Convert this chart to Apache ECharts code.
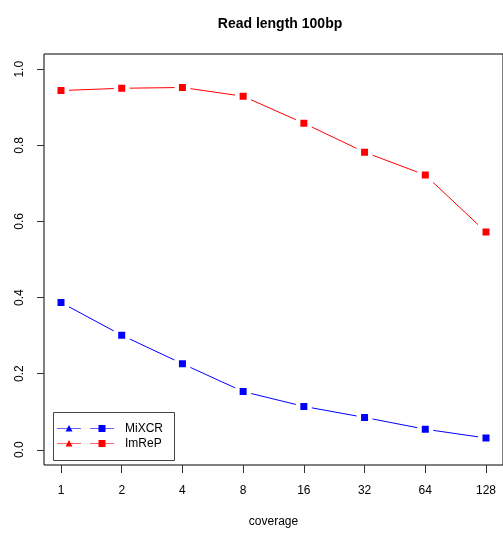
<!DOCTYPE html>
<html>
<head>
<meta charset="utf-8">
<script src="https://cdn.jsdelivr.net/npm/echarts@6/dist/echarts.min.js"></script>
<style>
  html, body { margin: 0; padding: 0; background: #fff; }
  #chart { width: 503px; height: 533px; }
</style>
</head>
<body>
<div id="chart"></div>
<script>
// coverage levels (x axis), one point per level
var coverage = ['1', '2', '4', '8', '16', '32', '64', '128'];
var mixcr = [0.387, 0.301, 0.226, 0.153, 0.114, 0.085, 0.054, 0.031];
var imrep = [0.944, 0.950, 0.952, 0.929, 0.858, 0.782, 0.722, 0.572];
var yTicks = [0, 0.2, 0.4, 0.6, 0.8, 1.0];
var seriesNames = ['MiXCR', 'ImReP'];
var seriesColors = ['#0000ff', '#ff0000'];

var chart = echarts.init(document.getElementById('chart'));

function pts(values) {
  return values.map(function (v, i) { return [i, v]; });
}

function lineSeries(name, color, values) {
  return {
    name: name,
    type: 'line',
    data: pts(values),
    symbol: 'rect',
    symbolSize: 11.5,
    lineStyle: { color: color, width: 1 },
    itemStyle: { color: color, borderColor: '#fff', borderWidth: 4.5 },
    emphasis: { disabled: true },
    animation: false
  };
}

// R style legend: line+triangle, line+square, label
function legendGraphic() {
  var items = [{
    type: 'rect',
    shape: { x: 53.5, y: 412.5, width: 121, height: 48 },
    style: { fill: 'none', stroke: '#444', lineWidth: 1 }
  }];
  seriesNames.forEach(function (name, k) {
    var y = 428.5 + k * 15;
    var c = seriesColors[k];
    items.push(
      { type: 'line', shape: { x1: 57, y1: y, x2: 81, y2: y },
        style: { stroke: c, lineWidth: 1, opacity: 0.6 } },
      { type: 'line', shape: { x1: 90, y1: y, x2: 114, y2: y },
        style: { stroke: c, lineWidth: 1, opacity: 0.6 } },
      { type: 'polygon', shape: { points: [[65.5, y + 3], [69, y - 3.5], [72.5, y + 3]] },
        style: { fill: c } },
      { type: 'rect', shape: { x: 98.5, y: y - 3.5, width: 7, height: 7 },
        style: { fill: c } },
      { type: 'text', x: 125, y: y, style: {
          text: name, fill: '#000', font: '12px "Liberation Sans", Arial, sans-serif',
          verticalAlign: 'middle', align: 'left' } }
    );
  });
  return items;
}

var tickIdx = coverage.map(function (c, i) { return i; });

var option = {
  backgroundColor: '#fff',
  textStyle: { fontFamily: 'Liberation Sans, Arial, sans-serif' },
  title: {
    text: 'Read length 100bp',
    left: 275,
    top: 12,
    textAlign: 'center',
    textStyle: { fontSize: 14, fontWeight: 'bold', color: '#000' }
  },
  grid: {
    left: 44,
    top: 54,
    width: 462,
    bottom: 64,
    show: true,
    borderColor: '#000',
    borderWidth: 1
  },
  xAxis: {
    type: 'value',
    min: -0.28,
    max: 7.28,
    name: 'coverage',
    nameLocation: 'middle',
    nameGap: 51,
    nameTextStyle: { fontSize: 12, color: '#000' },
    axisLine: { show: false, onZero: false },
    splitLine: { show: false },
    axisTick: {
      show: true,
      length: 8,
      customValues: tickIdx,
      lineStyle: { color: '#333' }
    },
    axisLabel: {
      customValues: tickIdx,
      formatter: function (v) { return coverage[Math.round(v)]; },
      margin: 20,
      fontSize: 12,
      color: '#000'
    }
  },
  yAxis: {
    type: 'value',
    min: -0.04,
    max: 1.04,
    axisLine: { show: false, onZero: false },
    splitLine: { show: false },
    axisTick: {
      show: true,
      length: 7,
      customValues: yTicks,
      lineStyle: { color: '#333' }
    },
    axisLabel: {
      customValues: yTicks,
      formatter: function (v) { return v.toFixed(1); },
      rotate: 90,
      margin: 18,
      fontSize: 12,
      color: '#000'
    }
  },
  graphic: legendGraphic(),
  series: [
    lineSeries(seriesNames[0], seriesColors[0], mixcr),
    lineSeries(seriesNames[1], seriesColors[1], imrep)
  ]
};

chart.setOption(option);
</script>
</body>
</html>
